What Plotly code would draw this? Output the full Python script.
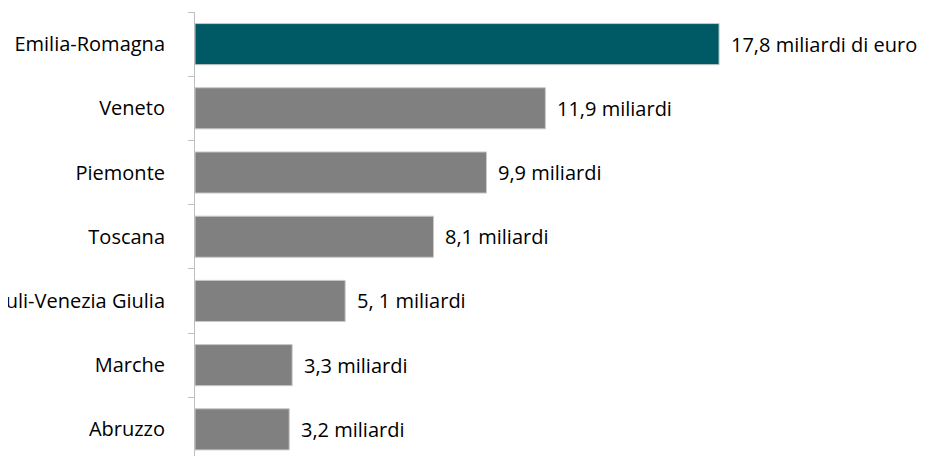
import plotly.graph_objects as go

regions = ["Emilia-Romagna", "Veneto", "Piemonte", "Toscana",
           "Friuli-Venezia Giulia", "Marche", "Abruzzo"]
values = [17.8, 11.9, 9.9, 8.1, 5.1, 3.3, 3.2]
labels = ["17,8 miliardi di euro", "11,9 miliardi", "9,9 miliardi",
          "8,1 miliardi", "5, 1 miliardi", "3,3 miliardi", "3,2 miliardi"]
colors = ["#005A66"] + ["#808080"] * 6

FONT = "Open Sans"
FS = 20

fig = go.Figure(go.Bar(
    x=values, y=regions, orientation="h",
    marker=dict(color=colors, line=dict(color="#c8c8c8", width=1)),
    width=0.64, hoverinfo="skip",
))

for r, v, t in zip(regions, values, labels):
    fig.add_annotation(x=v, y=r, text=t, showarrow=False, xanchor="left",
                       xshift=10, font=dict(family=FONT, size=FS, color="#000000"))

fig.update_layout(
    width=926, height=456,
    margin=dict(l=187, r=0, t=4, b=0),
    plot_bgcolor="white", paper_bgcolor="white",
    showlegend=False,
    xaxis=dict(range=[0, 25.1], visible=False, fixedrange=True),
    yaxis=dict(
        categoryorder="array", categoryarray=regions,
        range=[6.54, -0.5],
        showline=True, linecolor="#bfbfbf", linewidth=1,
        ticks="outside", tickson="boundaries", ticklen=6, tickcolor="#bfbfbf",
        ticklabelstandoff=25,
        tickfont=dict(family=FONT, size=FS, color="#000000"),
        showgrid=False, zeroline=False, automargin=False,
    ),
)

fig.write_html("out.html")
